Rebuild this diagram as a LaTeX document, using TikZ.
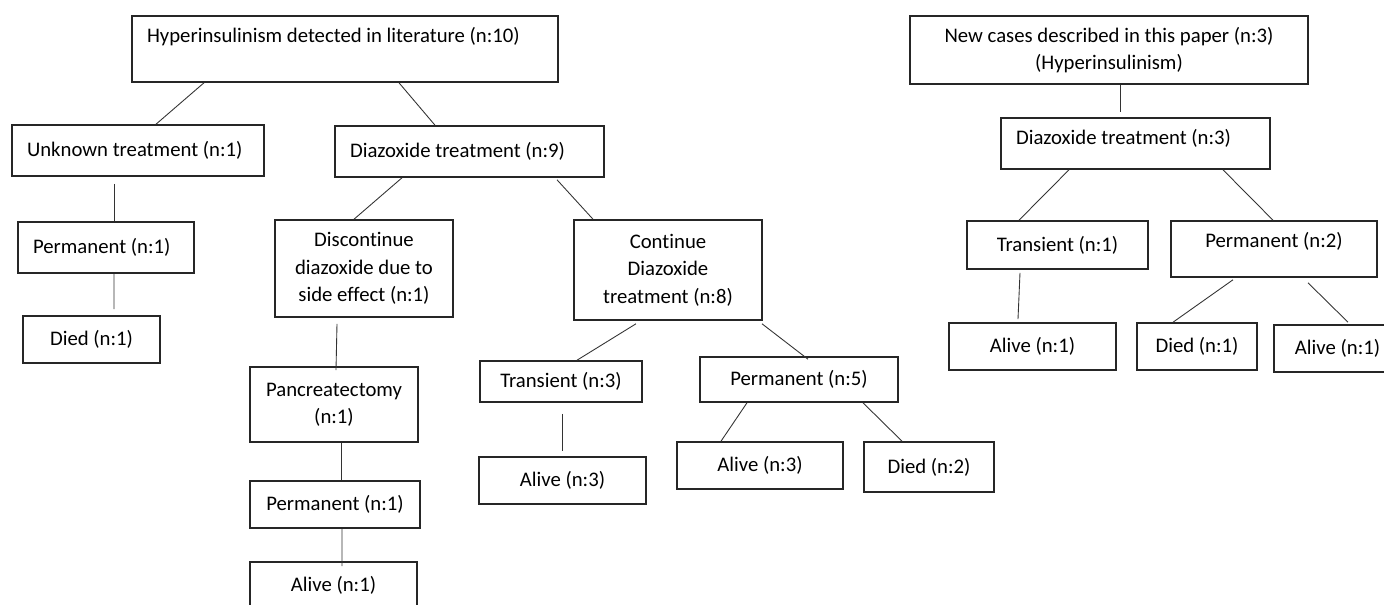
\documentclass[tikz,border=0pt]{standalone}
\usepackage{fontspec}
\setmainfont{Carlito}[Ligatures=NoCommon]
\usepackage{tikz}

\begin{document}
\begin{tikzpicture}[x=0.02cm, y=-0.02cm,
    box/.style={draw=black!85, line width=0.9pt, rectangle, inner sep=0pt, align=center,
      font=\fontsize{11.8}{15.6}\selectfont},
    lbox/.style={box, align=flush left, inner xsep=0.3cm},
    link/.style={draw=black!80, line width=0.5pt}]
  % Page
  \fill[white] (0,0) rectangle (1384,605);
  \useasboundingbox (0,0) rectangle (1384,605);
  % Literature tree
  \node[lbox, text width=7.92cm, minimum width=8.52cm, minimum height=1.32cm] (lit) at (345,49)
    {Hyperinsulinism detected in literature (n:10)\\\mbox{}};
  \node[lbox, text width=4.44cm, minimum width=5.04cm, minimum height=1.02cm] (unk) at (138,150.5)
    {Unknown treatment (n:1)};
  \node[lbox, text width=4.78cm, minimum width=5.38cm, minimum height=1.02cm] (dia) at (469.5,151.5)
    {Diazoxide treatment (n:9)};
  \node[lbox, text width=2.92cm, minimum width=3.52cm, minimum height=1.02cm] (permA) at (106,247.5)
    {Permanent (n:1)};
  \node[box, minimum width=2.74cm, minimum height=0.94cm] (diedA) at (91.5,339.5) {Died (n:1)};
  \node[box, minimum width=3.56cm, minimum height=1.94cm] (disc) at (364,268.5)
    {Discontinue\\diazoxide due to\\side effect (n:1)};
  \node[box, minimum width=3.76cm, minimum height=2.00cm] (cont) at (668,270)
    {Continue\\Diazoxide\\treatment (n:8)};
  \node[box, minimum width=3.36cm, minimum height=1.50cm] (pan) at (334,404.5)
    {Pancreatectomy\\(n:1)};
  \node[box, minimum width=3.40cm, minimum height=0.94cm] (permB) at (335,504.5) {Permanent (n:1)};
  \node[box, minimum width=3.34cm, minimum height=0.94cm] (aliveA) at (333.5,585.5) {Alive (n:1)};
  \node[box, minimum width=3.24cm, minimum height=0.82cm] (transA) at (561,381.5) {Transient (n:3)};
  \node[box, minimum width=3.96cm, minimum height=0.90cm] (permC) at (799,379.5) {Permanent (n:5)};
  \node[box, minimum width=3.34cm, minimum height=0.94cm] (aliveB) at (562.5,480.5) {Alive (n:3)};
  \node[box, minimum width=3.32cm, minimum height=0.94cm] (aliveC) at (760,465.5) {Alive (n:3)};
  \node[box, minimum width=2.60cm, minimum height=1.00cm] (diedB) at (929,467) {Died (n:2)};
  % New cases tree
  \node[box, minimum width=7.96cm, minimum height=1.36cm] (newc) at (1109,50)
    {New cases described in this paper (n:3)\\(Hyperinsulinism)};
  \node[lbox, text width=4.78cm, text depth=0.28cm, minimum width=5.38cm, minimum height=1.02cm] (diaR) at (1135.5,143.5)
    {Diazoxide treatment (n:3)};
  \node[box, minimum width=3.62cm, minimum height=0.96cm] (transR) at (1057.5,245) {Transient (n:1)};
  \node[box, text depth=0.36cm, minimum width=4.12cm, minimum height=1.12cm] (permR) at (1274,249) {Permanent (n:2)};
  \node[box, minimum width=3.34cm, minimum height=0.94cm] (aliveR) at (1032.5,346.5) {Alive (n:1)};
  \node[box, minimum width=2.40cm, minimum height=0.94cm] (diedR) at (1197,346.5) {Died (n:1)};
  \node[box, minimum width=2.54cm, minimum height=0.94cm] (aliveR2) at (1337.5,348.5) {Alive (n:1)};
  % Connectors
  \draw[link] ([shift={(-141,0)}]lit.south) -- ([shift={(18,0)}]unk.north);
  \draw[link] ([shift={(54,0)}]lit.south) -- ([shift={(-34.5,0)}]dia.north);
  \draw[link] ([shift={(-24,7)}]unk.south) -- ([shift={(8,0)}]permA.north);
  \draw[link] ([shift={(8,0)}]permA.south) -- ([shift={(22.5,-6)}]diedA.north);
  \draw[link] ([shift={(-67.5,0)}]dia.south) -- ([shift={(-10,0)}]disc.north);
  \draw[link] ([shift={(87.5,2)}]dia.south) -- ([shift={(-75,0)}]cont.north);
  \draw[link] ([shift={(-27,6)}]disc.south) -- ([shift={(2,4)}]pan.north);
  \draw[link] ([shift={(7,0)}]pan.south) -- ([shift={(6,0)}]permB.north);
  \draw[link] ([shift={(7,0)}]permB.south) -- ([shift={(8.5,5)}]aliveA.north);
  \draw[link] ([shift={(-32,3)}]cont.south) -- ([shift={(16,0)}]transA.north);
  \draw[link] ([shift={(94,3)}]cont.south) -- ([shift={(9,3)}]permC.north);
  \draw[link] ([shift={(1,11)}]transA.south) -- ([shift={(-0.5,-5)}]aliveB.north);
  \draw[link] ([shift={(-52,0)}]permC.south) -- ([shift={(-39,0)}]aliveC.north);
  \draw[link] ([shift={(64,0)}]permC.south) -- ([shift={(-27,0)}]diedB.north);
  \draw[link] ([shift={(11,0)}]newc.south) -- ([shift={(-15.5,-5)}]diaR.north);
  \draw[link] ([shift={(-66.5,0)}]diaR.south) -- ([shift={(-38.5,0)}]transR.north);
  \draw[link] ([shift={(87.5,0)}]diaR.south) -- ([shift={(-1,0)}]permR.north);
  \draw[link] ([shift={(-37.5,3)}]transR.south) -- ([shift={(-14.5,-3)}]aliveR.north);
  \draw[link] ([shift={(-41,2)}]permR.south) -- ([shift={(-24,0)}]diedR.north);
  \draw[link] ([shift={(34,5)}]permR.south) -- ([shift={(10.5,-2)}]aliveR2.north);
\end{tikzpicture}
\end{document}
